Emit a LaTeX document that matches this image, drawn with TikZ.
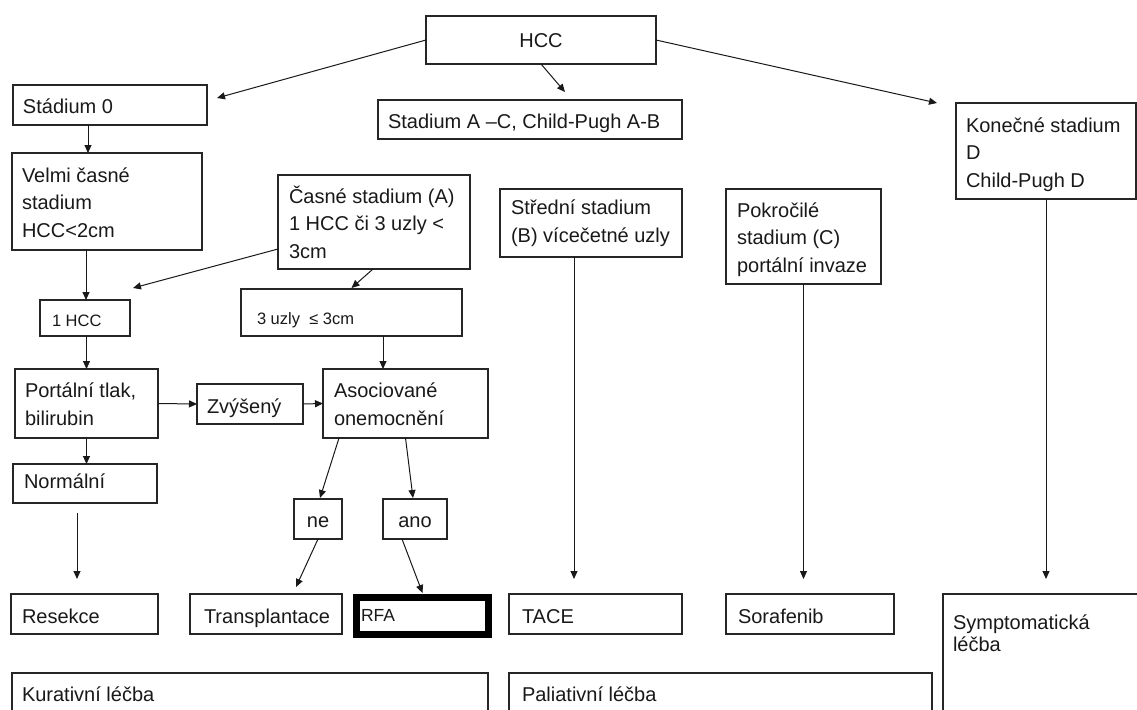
\documentclass[tikz,border=0pt]{standalone}
\usepackage{fontspec}
\setmainfont{Liberation Sans}
\usetikzlibrary{arrows.meta}
\newcommand\bx[5]{\node[box, minimum width={#4-#2}, minimum height={#5-#3}] (#1) at ({(#2+#4)/2},{(#3+#5)/2}) {};}
\begin{document}
\begin{tikzpicture}[x=1pt,y=-1pt,
  box/.style={draw=black!85, line width=1.2pt, rectangle, inner sep=0pt, outer sep=0pt},
  txt/.style={inner sep=0pt, outer sep=0pt, font=\fontsize{20}{27.5}\selectfont, align=left, anchor=base west, text=black!90},
  stxt/.style={txt, font=\fontsize{16.5}{20}\selectfont},
  arr/.style={draw=black!90, line width=1pt, -{Triangle[length=8pt,width=7pt]}}]
\clip (0,0) rectangle (1137,709);
\fill[white] (0,0) rectangle (1137,709);
% boxes (multi-line texts are placed by the baseline of their last line)
\bx{hcc}{426}{16}{656}{64}
\node[txt, anchor=base] (thcc) at (541,48) {HCC};
\bx{st0}{13}{85}{207}{125}
\node[txt] (tst0) at (23,113) {Stádium 0};
\bx{stac}{378}{100}{682}{139}
\node[txt] (tstac) at (388,128) {Stadium A –C, Child-Pugh A-B};
\bx{kon}{956}{103}{1136}{199}
\node[txt] (tkon) at (966,187) {Konečné stadium\\D\\Child-Pugh D};
\bx{velmi}{12}{153}{202}{250}
\node[txt] (tvelmi) at (22,237) {Velmi časné\\stadium\\HCC<2cm};
\bx{casne}{278}{175}{470}{269}
\node[txt] (tcasne) at (289,258) {Časné stadium (A)\\1 HCC či 3 uzly <\\3cm};
\bx{stred}{500}{189}{682}{257}
\node[txt] (tstred) at (511,242) {Střední stadium\\(B) vícečetné uzly};
\bx{pokr}{726}{189}{881}{284}
\node[txt] (tpokr) at (737,272) {Pokročilé\\stadium (C)\\portální invaze};
\bx{hcc1}{40}{300}{130}{336}
\node[stxt] (thcc1) at (52,326) {1 HCC};
\bx{uzly}{241}{289}{462}{336}
\node[stxt] (tuzly) at (257,324) {3 uzly \ ≤ 3cm};
\bx{port}{15}{369}{158}{438}
\node[txt] (tport) at (25,425) {Portální tlak,\\bilirubin};
\bx{zvys}{197}{384}{303}{424}
\node[txt] (tzvys) at (207,413) {Zvýšený};
\bx{asoc}{323}{369}{488}{438}
\node[txt] (tasoc) at (334,425) {Asociované\\onemocnění};
\bx{norm}{13}{464}{157}{503}
\node[txt] (tnorm) at (24,488) {Normální};
\bx{ne}{294}{499}{342}{539}
\node[txt, anchor=base] (tne) at (318,527) {ne};
\bx{ano}{383}{499}{447}{539}
\node[txt, anchor=base] (tano) at (415,527) {ano};
\bx{res}{11}{594}{158}{634}
\node[txt] (tres) at (22,623) {Resekce};
\bx{trans}{190}{594}{342}{634}
\node[txt] (ttrans) at (204,623) {Transplantace};
\node[box, draw=black, line width=7pt, minimum width=132pt, minimum height=37pt] (rfa) at (422.5,616) {};
\node[txt, font=\fontsize{17.5}{20}\selectfont] (trfa) at (361,621) {RFA};
\bx{tace}{509}{594}{682}{634}
\node[txt] (ttace) at (522,623) {TACE};
\bx{sora}{726}{594}{894}{634}
\node[txt] (tsora) at (738,623) {Sorafenib};
\bx{symp}{943}{594}{1140}{720}
\node[txt, font=\fontsize{20}{21.5}\selectfont] (tsymp) at (953,651) {Symptomatická\\léčba};
\bx{kur}{12}{673}{488}{720}
\node[txt] (tkur) at (22,701) {Kurativní léčba};
\bx{pal}{509}{673}{932}{720}
\node[txt] (tpal) at (522,701) {Paliativní léčba};
% connectors
\draw[arr] (hcc.west) -- ([xshift=10pt,yshift=7pt]st0.east);
\draw[arr] (hcc.south) -- ([xshift=35pt,yshift=8pt]stac.north);
\draw[arr] (hcc.east) -- ([xshift=-19pt]kon.north west);
\draw[arr] ([xshift=-22pt]st0.south) -- ([xshift=-19pt]velmi.north);
\draw[arr] ([xshift=-21pt]velmi.south) -- ([xshift=1pt]hcc1.north);
\draw[arr] ([yshift=-27pt]casne.west) -- ([xshift=3pt,yshift=12pt]hcc1.north east);
\draw[arr] ([xshift=-1pt]casne.south) -- ([yshift=1pt]uzly.north);
\draw[arr] (hcc1.south -| port.north) -- (port.north);
\draw[arr] ([xshift=31.5pt]uzly.south) -- ([xshift=-22.5pt]asoc.north);
\draw[arr] (port.east) -- (zvys.west);
\draw[arr] (zvys.east) -- (asoc.west);
\draw[arr] (port.south) -- (port.south |- norm.north);
\draw[arr] ([xshift=-66.5pt]asoc.south) -- ([xshift=2pt,yshift=1pt]ne.north);
\draw[arr] (asoc.south) -- ([xshift=-2pt,yshift=1pt]ano.north);
\draw[arr] (ne.south) -- ([xshift=30pt,yshift=7pt]trans.north);
\draw[arr] ([xshift=-13pt]ano.south) -- ([yshift=4.5pt]rfa.north);
\draw[arr] ([xshift=-8pt,yshift=-10pt]norm.south) -- ([xshift=-7.5pt,yshift=15pt]res.north);
\draw[arr] ([xshift=-17pt]stred.south) -- ([xshift=-21.5pt,yshift=15pt]tace.north);
\draw[arr] (pokr.south) -- ([xshift=-6.5pt,yshift=15pt]sora.north);
\draw[arr] (kon.south) -- ([xshift=4.5pt,yshift=15pt]symp.north);
\end{tikzpicture}
\end{document}
